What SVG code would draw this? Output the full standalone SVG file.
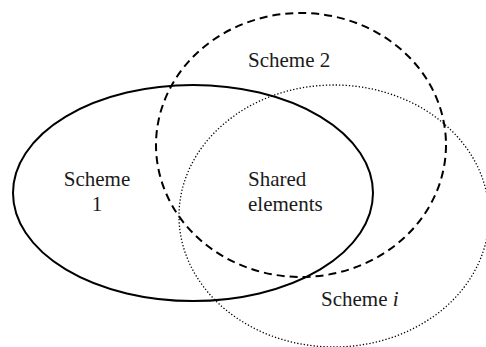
<svg xmlns="http://www.w3.org/2000/svg" width="486" height="347" viewBox="0 0 486 347">
<style>
.s{fill:none;stroke:#000}
.t{font-family:"Liberation Serif","Times New Roman",serif;font-size:21px;fill:#1a1a1a}
</style>
<rect width="486" height="347" fill="#fff"/>
<g id="scheme-i">
<ellipse class="s" cx="334" cy="216" rx="155" ry="131" stroke-width="1.3" stroke-dasharray="1.3 2"/>
<text class="t" x="321" y="306">Scheme <tspan font-style="italic">i</tspan></text>
</g>
<g id="scheme-2">
<ellipse class="s" cx="301" cy="145" rx="145" ry="132" stroke-width="2" stroke-dasharray="8 5"/>
<text class="t" x="248" y="67">Scheme 2</text>
</g>
<g id="scheme-1">
<ellipse class="s" cx="193" cy="193" rx="180" ry="108" stroke-width="2"/>
<text class="t" x="97" y="186" text-anchor="middle">Scheme</text>
<text class="t" x="97" y="211" text-anchor="middle">1</text>
</g>
<g id="shared">
<text class="t" x="248" y="186">Shared</text>
<text class="t" x="248" y="211">elements</text>
</g>
<g id="connectors"></g>
</svg>
